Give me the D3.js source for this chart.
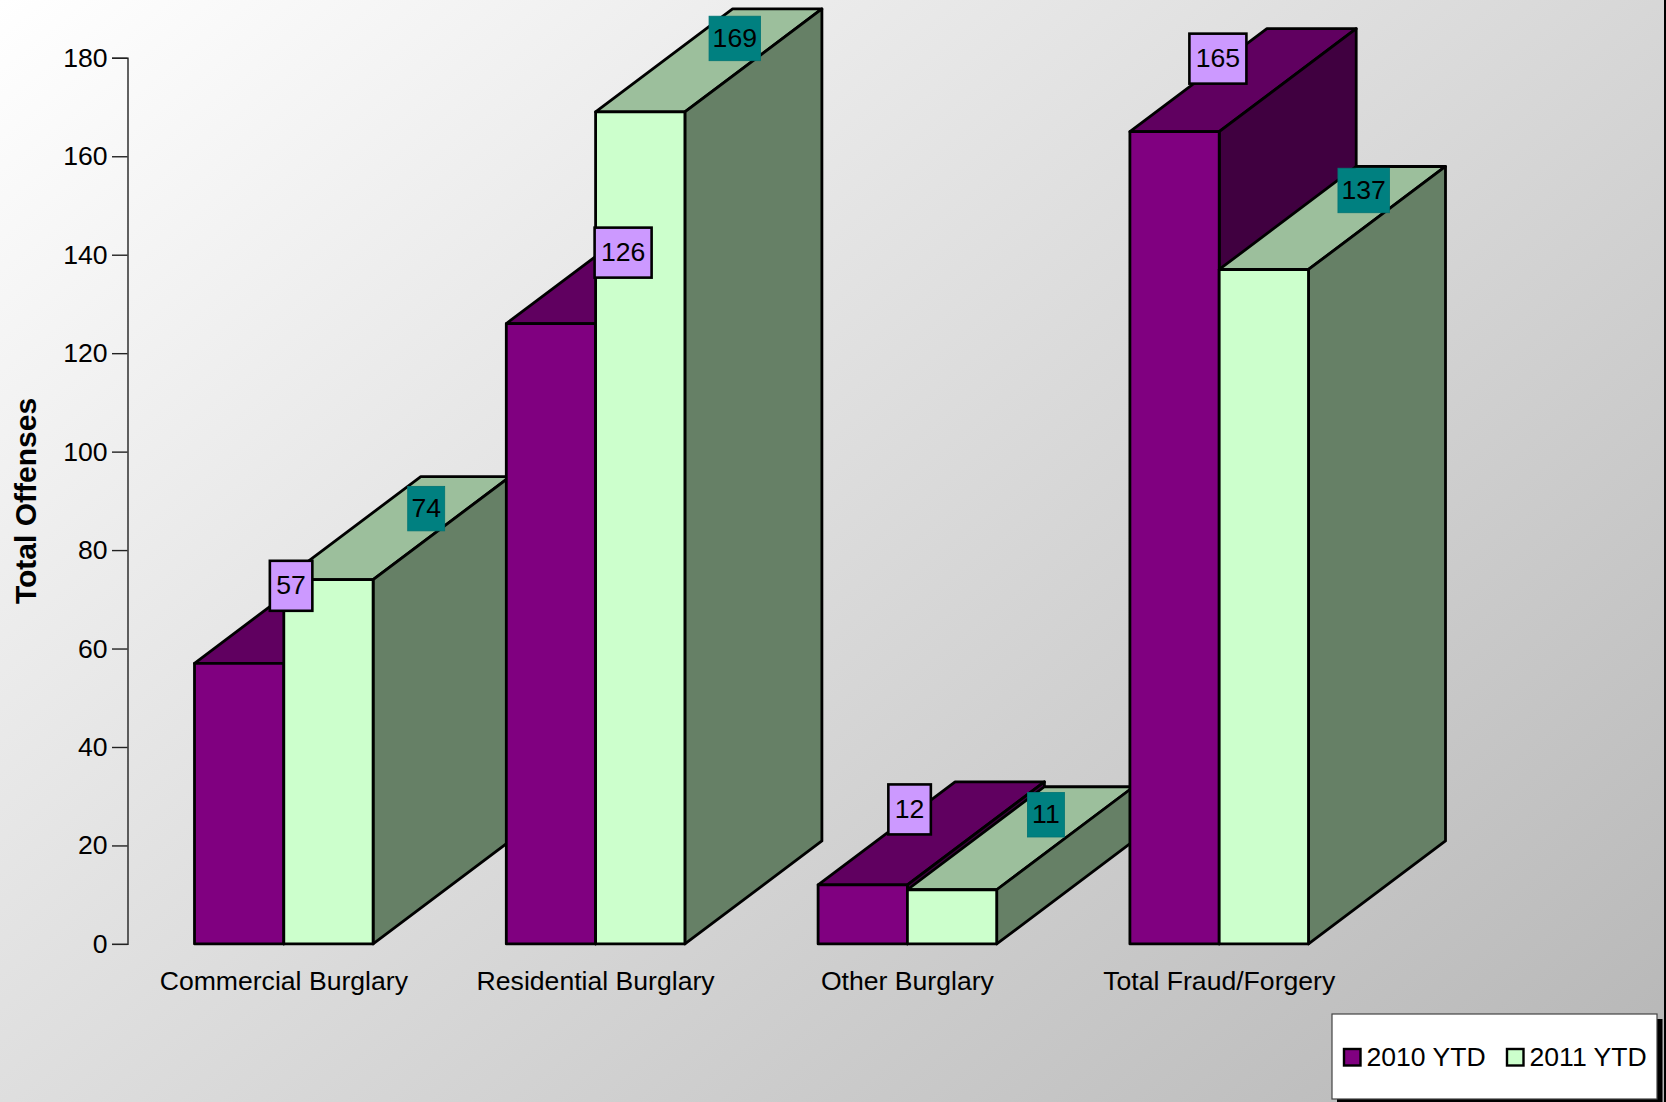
<!DOCTYPE html>
<html>
<head>
<meta charset="utf-8">
<script src="https://cdn.jsdelivr.net/npm/d3@7"></script>
<style>
  body { margin: 0; background: #fff; }
  svg { display: block; }
  text { font-family: "Liberation Sans", Arial, sans-serif; fill: #000; }
</style>
</head>
<body>
<svg id="chart"></svg>
<script>
var categories = ["Commercial Burglary", "Residential Burglary", "Other Burglary", "Total Fraud/Forgery"];
var seriesNames = ["2010 YTD", "2011 YTD"];
var values2010 = [57, 126, 12, 165];
var values2011 = [74, 169, 11, 137];
var yTicks = [0, 20, 40, 60, 80, 100, 120, 140, 160, 180];

var screen = {width: 1666, height: 1102};
var fontSize = 26.6;
var depth = {x: 137, y: 103};
var barWidth = 89.3;

// hand placed value labels in the original, offset from each bar's top left corner
var labelOffsets2010 = [[96.6, -77.5], [116.8, -71], [91.5, -75.4], [88, -73]];
var labelOffsets2011 = [[142.4, -71], [139.2, -73.5], [138.5, -75], [144.5, -79]];

var colors = [
  {front: "#800080", top: "#600060", side: "#400040", box: "#CC99FF", boxStroke: "#000", boxWidth: 2.6},
  {front: "#CCFFCC", top: "#9CBF9C", side: "#668066", box: "#008080", boxStroke: "#007474", boxWidth: 0.8}
];

var svg = d3.select("#chart")
  .attr("width", screen.width)
  .attr("height", screen.height);

var grad = svg.append("defs").append("linearGradient")
  .attr("id", "bg")
  .attr("gradientUnits", "userSpaceOnUse")
  .attr("x1", 0).attr("y1", 0).attr("x2", 1197).attr("y2", 1481);
grad.append("stop").attr("offset", "0%").attr("stop-color", "#ffffff");
grad.append("stop").attr("offset", "100%").attr("stop-color", "#b6b6b6");

svg.append("rect")
  .attr("width", screen.width)
  .attr("height", screen.height)
  .attr("fill", "url(#bg)");

// thin black strip down the right edge
svg.append("rect")
  .attr("x", 1664).attr("y", 0)
  .attr("width", 2).attr("height", screen.height)
  .attr("fill", "#000");

var xScale = d3.scaleBand()
  .domain(categories)
  .range([127.9, 1375.1]);

var xInner = d3.scaleBand()
  .domain(seriesNames)
  .range([-barWidth, barWidth]);

var yScale = d3.scaleLinear()
  .domain([0, 180])
  .range([943.9, 57.8]);

// y axis
var yAxis = d3.axisLeft(yScale)
  .tickValues(yTicks)
  .tickSize(15.5)
  .tickPadding(4.5)
  .tickSizeOuter(15.5);

var yG = svg.append("g")
  .attr("transform", "translate(127.5,0)")
  .call(yAxis);
yG.selectAll("text").style("font-size", fontSize + "px");
yG.selectAll("line").attr("stroke", "#222").attr("stroke-width", 1.4);
yG.select(".domain").attr("stroke", "#222").attr("stroke-width", 1.4);

// x axis labels
var xAxis = d3.axisBottom(xScale).tickSize(0).tickPadding(27.5);
var xG = svg.append("g")
  .attr("transform", "translate(0,943.9)")
  .call(xAxis);
xG.select(".domain").remove();
xG.selectAll("text").style("font-size", fontSize + "px");

svg.append("text")
  .attr("transform", "translate(36,501) rotate(-90)")
  .attr("text-anchor", "middle")
  .style("font-size", "30px")
  .style("font-weight", "bold")
  .text("Total Offenses");

var drawFace = function(points, fill) {
  svg.append("path")
    .attr("d", d3.line()(points) + "Z")
    .attr("fill", fill)
    .attr("stroke", "#000")
    .attr("stroke-width", 2.8)
    .attr("stroke-linejoin", "round");
};

var seriesValues = [values2010, values2011];
var labelOffsets = [labelOffsets2010, labelOffsets2011];

// bars, back to front, left to right
categories.forEach(function(cat, c) {
  seriesNames.forEach(function(name, s) {
    var v = seriesValues[s][c];
    var x0 = xScale(cat) + xScale.bandwidth() / 2 + xInner(name);
    var x1 = x0 + barWidth;
    var y0 = yScale(v);
    var y1 = yScale(0);
    drawFace([[x0, y0], [x0 + depth.x, y0 - depth.y], [x1 + depth.x, y0 - depth.y], [x1, y0]], colors[s].top);
    drawFace([[x1, y0], [x1 + depth.x, y0 - depth.y], [x1 + depth.x, y1 - depth.y], [x1, y1]], colors[s].side);
    drawFace([[x0, y0], [x1, y0], [x1, y1], [x0, y1]], colors[s].front);
  });
});

// value labels go over everything
categories.forEach(function(cat, c) {
  seriesNames.forEach(function(name, s) {
    var v = seriesValues[s][c];
    var x0 = xScale(cat) + xScale.bandwidth() / 2 + xInner(name);
    var cx = x0 + labelOffsets[s][c][0];
    var cy = yScale(v) + labelOffsets[s][c][1];
    var w = (String(v).length === 3 ? 57 : 42.5) - (s === 1 ? 5.5 : 0);
    var h = s === 1 ? 44.5 : 50;
    svg.append("rect")
      .attr("x", cx - w / 2).attr("y", cy - h / 2)
      .attr("width", w).attr("height", h)
      .attr("fill", colors[s].box)
      .attr("stroke", colors[s].boxStroke)
      .attr("stroke-width", colors[s].boxWidth);
    svg.append("text")
      .attr("x", cx).attr("y", cy + 8.6)
      .attr("text-anchor", "middle")
      .style("font-size", fontSize + "px")
      .text(v);
  });
});

// legend
svg.append("rect")
  .attr("x", 1337).attr("y", 1019)
  .attr("width", 325.5).attr("height", 90)
  .attr("fill", "#000");
svg.append("rect")
  .attr("x", 1332).attr("y", 1014)
  .attr("width", 325).attr("height", 85)
  .attr("fill", "#fff")
  .attr("stroke", "#444")
  .attr("stroke-width", 1.2);

var legendX = [1344, 1507];
seriesNames.forEach(function(name, s) {
  svg.append("rect")
    .attr("x", legendX[s]).attr("y", 1049)
    .attr("width", 16.5).attr("height", 16.5)
    .attr("fill", colors[s].front)
    .attr("stroke", "#000")
    .attr("stroke-width", 2.4);
  svg.append("text")
    .attr("x", legendX[s] + 22.5).attr("y", 1066)
    .style("font-size", fontSize + "px")
    .text(name);
});
</script>
</body>
</html>
